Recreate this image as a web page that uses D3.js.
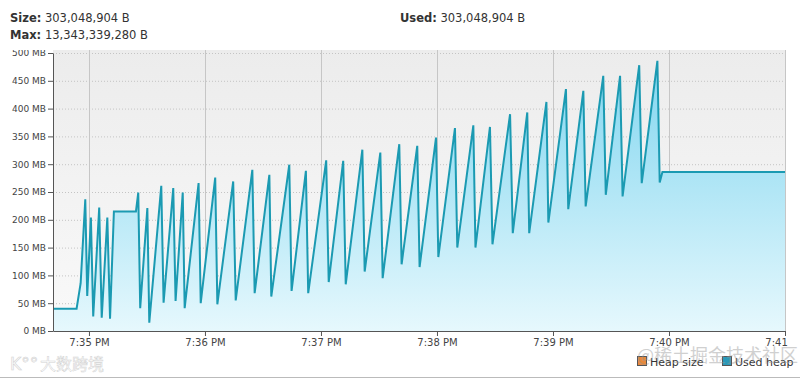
<!DOCTYPE html>
<html>
<head>
<meta charset="utf-8">
<script src="https://cdn.jsdelivr.net/npm/d3@7"></script>
<style>
  body { margin: 0; background: #fff; }
  svg { display: block; font-family: "DejaVu Sans", sans-serif; }
</style>
</head>
<body>
<svg id="chart" width="800" height="379"></svg>
<script>
// seconds after 7:34:00 PM
const usedSeconds = [41.4, 53.6, 55.7, 58.1, 59.1, 61.0, 62.2, 65.3, 66.6, 69.5,
  70.9, 72.9, 84.3, 85.5, 86.5, 90.2, 91.2, 97.4, 98.6, 103.6,
  104.8, 108.5, 109.5, 116.7, 117.8, 125.3, 126.4, 134.6, 135.9, 144.5,
  145.7, 153.3, 154.3, 163.6, 164.8, 172.2, 173.4, 182.7, 184.0, 191.5,
  192.8, 201.4, 202.6, 210.7, 211.9, 220.5, 221.7, 229.8, 231.0, 239.5,
  240.7, 249.3, 250.5, 258.8, 259.9, 267.4, 268.7, 277.8, 279.2, 286.7,
  287.7, 296.6, 297.6, 306.7, 307.9, 315.7, 316.9, 326.0, 327.3, 334.7,
  336.0, 344.6, 345.9, 354.0, 355.2, 356.6, 420.0];

// used heap, MB
const usedMB = [40, 40, 86, 237, 63, 204, 26, 222, 24, 204,
  22, 215, 215, 249, 41, 221, 15, 261, 51, 257,
  54, 249, 41, 266, 50, 276, 48, 269, 55, 290,
  68, 281, 62, 299, 72, 288, 68, 307, 88, 306,
  84, 326, 107, 321, 95, 336, 120, 333, 115, 348,
  133, 365, 150, 370, 150, 367, 156, 390, 176, 393,
  176, 412, 195, 435, 219, 432, 224, 459, 245, 459,
  242, 478, 266, 486, 267, 286, 286];

const yTicks = [0, 50, 100, 150, 200, 250, 300, 350, 400, 450, 500];

const headerNames = ["Size:", "Max:", "Used:"];
const headerValues = ["303,048,904 B", "13,343,339,280 B", "303,048,904 B"];

const legendNames = ["Heap size", "Used heap"];
const legendColors = ["#e8893c", "#2a98b8"];

const base = new Date(2024, 0, 1, 19, 34, 0);
const toTime = s => new Date(base.getTime() + s * 1000);

const data = usedSeconds.map((s, i) => ({t: toTime(s), v: usedMB[i]}));

const svg = d3.select("#chart");
const width = +svg.attr("width");
const height = +svg.attr("height");

const margin = {top: 53, right: 15, bottom: 48, left: 53};

const x = d3.scaleTime()
  .domain([toTime(usedSeconds[0]), toTime(usedSeconds[usedSeconds.length - 1])])
  .range([margin.left, width - margin.right]);

const y = d3.scaleLinear()
  .domain([0, 500])
  .range([height - margin.bottom, margin.top]);

const defs = svg.append("defs");

const bg = defs.append("linearGradient")
  .attr("id", "bg").attr("x1", 0).attr("y1", 0).attr("x2", 0).attr("y2", 1);
bg.append("stop").attr("offset", "0%").attr("stop-color", "#ececec");
bg.append("stop").attr("offset", "100%").attr("stop-color", "#f9f9f9");

const fill = defs.append("linearGradient")
  .attr("id", "fill").attr("gradientUnits", "userSpaceOnUse")
  .attr("x1", 0).attr("y1", y(500)).attr("x2", 0).attr("y2", y(0));
fill.append("stop").attr("offset", "0%").attr("stop-color", "#7fd5ef");
fill.append("stop").attr("offset", "100%").attr("stop-color", "#e6f8fd");

defs.append("clipPath").attr("id", "clip")
  .append("rect").attr("x", 0).attr("y", 50).attr("width", 789).attr("height", height - 50);

const chart = svg.append("g").attr("clip-path", "url(#clip)");

// plot background
chart.append("rect")
  .attr("x", x.range()[0])
  .attr("y", 50)
  .attr("width", x.range()[1] - x.range()[0] + 1)
  .attr("height", y(0) - 50)
  .attr("fill", "url(#bg)");

// grid
const minutes = x.ticks(d3.timeMinute.every(1));

chart.append("g")
  .selectAll("line")
  .data(yTicks.slice(1))
  .join("line")
  .attr("x1", x.range()[0]).attr("x2", x.range()[1])
  .attr("y1", d => y(d) + 0.5).attr("y2", d => y(d) + 0.5)
  .attr("stroke", "#c4c4c4")
  .attr("stroke-dasharray", "1,2");

chart.append("g")
  .selectAll("line")
  .data(minutes)
  .join("line")
  .attr("x1", d => Math.round(x(d)) + 0.5).attr("x2", d => Math.round(x(d)) + 0.5)
  .attr("y1", 50).attr("y2", y(0))
  .attr("stroke", "#c6c6c6");

// used heap
const area = d3.area()
  .x(d => x(d.t))
  .y0(y(0))
  .y1(d => y(d.v));

const line = d3.line()
  .x(d => x(d.t))
  .y(d => y(d.v));

chart.append("path")
  .datum(data)
  .attr("d", area)
  .attr("fill", "url(#fill)");

chart.append("path")
  .datum(data)
  .attr("d", line)
  .attr("fill", "none")
  .attr("stroke", "#1b9ab2")
  .attr("stroke-width", 2)
  .attr("stroke-linejoin", "miter")
  .attr("stroke-miterlimit", 3);

// X-axis
const xAxis = chart.append("g")
  .attr("transform", `translate(0, ${y(0)})`)
  .call(d3.axisBottom(x)
    .ticks(d3.timeMinute.every(1))
    .tickFormat(d3.timeFormat("%-I:%M %p"))
    .tickSize(5)
    .tickSizeOuter(0)
    .tickPadding(3));

// Y-axis
const yAxis = chart.append("g")
  .attr("transform", `translate(${margin.left}, 0)`)
  .call(d3.axisLeft(y)
    .tickValues(yTicks)
    .tickFormat(d => d + " MB")
    .tickSize(5)
    .tickSizeOuter(0)
    .tickPadding(2));

xAxis.selectAll("path, line").attr("stroke", "#555");
yAxis.selectAll("path, line").attr("stroke", "#555");
xAxis.selectAll("text")
  .style("font-size", "10px")
  .style("font-family", "DejaVu Sans")
  .attr("fill", "#444");
yAxis.selectAll("text")
  .style("font-size", "9px")
  .style("font-family", "DejaVu Sans")
  .attr("fill", "#444");

// header
const headerPos = [[10, 22], [10, 39], [400, 22]];
const header = svg.append("g")
  .selectAll("text")
  .data(headerNames)
  .join("text")
  .attr("x", (d, i) => headerPos[i][0])
  .attr("y", (d, i) => headerPos[i][1])
  .style("font-size", "11.5px")
  .attr("fill", "#333");
header.append("tspan").style("font-weight", "bold").text(d => d);
header.append("tspan").text((d, i) => " " + headerValues[i]);

// legend
const legendX = [637, 722];
const legend = svg.append("g");
legend.selectAll("rect")
  .data(legendNames)
  .join("rect")
  .attr("x", (d, i) => legendX[i] + 0.5)
  .attr("y", 356.5)
  .attr("width", 9)
  .attr("height", 9)
  .attr("fill", (d, i) => legendColors[i])
  .attr("stroke", "#555");
legend.selectAll("text")
  .data(legendNames)
  .join("text")
  .attr("x", (d, i) => legendX[i] + 13)
  .attr("y", 366)
  .style("font-size", "11px")
  .attr("fill", "#333")
  .text(d => d);

// watermarks
svg.append("text")
  .attr("x", 10)
  .attr("y", 370)
  .style("font-family", "DejaVu Sans")
  .style("font-size", "17px")
  .attr("fill", "#fff")
  .attr("stroke", "#d2d2d2")
  .attr("stroke-width", 0.6)
  .text("K°°");

svg.append("text")
  .attr("x", 40)
  .attr("y", 370)
  .style("font-family", "Noto Sans CJK SC")
  .style("font-size", "16px")
  .attr("fill", "#fff")
  .attr("stroke", "#d2d2d2")
  .attr("stroke-width", 0.5)
  .text("大数跨境");

svg.append("text")
  .attr("x", 637)
  .attr("y", 362)
  .style("font-family", "Noto Sans CJK SC")
  .style("font-size", "18px")
  .attr("fill", "#999")
  .attr("opacity", 0.45)
  .text("@稀土掘金技术社区");

// bottom border
svg.append("line")
  .attr("x1", 0).attr("x2", width)
  .attr("y1", 377.5).attr("y2", 377.5)
  .attr("stroke", "#bbb");
</script>
</body>
</html>
